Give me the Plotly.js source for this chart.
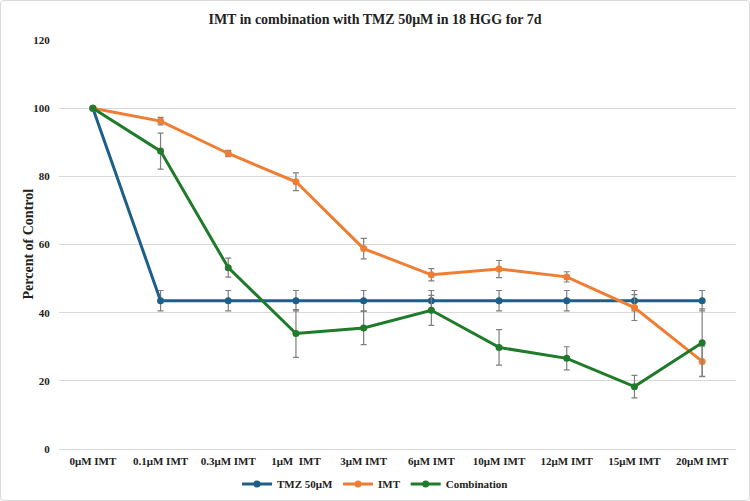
<!DOCTYPE html>
<html>
<head>
<meta charset="utf-8">
<script src="https://cdn.plot.ly/plotly-3.0.1.min.js"></script>
<style>
html,body{margin:0;padding:0;background:#fff;}
#wrap{position:relative;width:750px;height:501px;}
#chart{width:750px;height:501px;}
#frame{position:absolute;left:0;top:0;width:748px;height:499px;border:1px solid #d9d9d9;border-radius:4px;pointer-events:none;}
</style>
</head>
<body>
<div id="wrap"><div id="chart"></div><div id="frame"></div></div>
<script>
const categories = ["0μM IMT","0.1μM IMT","0.3μM IMT","1μM  IMT","3μM IMT","6μM IMT","10μM IMT","12μM IMT","15μM IMT","20μM IMT"];
const tmzValues = [100,43.5,43.5,43.5,43.5,43.5,43.5,43.5,43.5,43.5];
const tmzErrors = [0,3,3,3,3,3,3,3,3,3];
const imtValues = [100,96.2,86.7,78.4,58.8,51.1,52.8,50.5,41.5,25.7];
const imtErrors = [0,1.1,0.9,2.6,3,1.8,2.5,1.5,3.8,4.5];
const comboValues = [100,87.4,53.2,33.9,35.5,40.7,29.8,26.6,18.3,31.2];
const comboErrors = [0,5.3,2.8,7,4.9,4.4,5.2,3.4,3.3,9.9];
const seriesNames = ["TMZ 50μM","IMT","Combination"];
const seriesColors = ["#1d5f8a","#ef7d32","#1f7a2a"];

const serif = "Liberation Serif, Times New Roman, serif";
function mk(name, y, err, color){
  return {
    type:'scatter', mode:'lines+markers', name:name,
    x:categories, y:y,
    line:{color:color, width:3},
    marker:{color:color, size:7},
    error_y:{type:'data', array:err, visible:true, color:'#7f7f7f', thickness:1.2, width:3}
  };
}
const data = [
  mk(seriesNames[0], tmzValues, tmzErrors, seriesColors[0]),
  mk(seriesNames[1], imtValues, imtErrors, seriesColors[1]),
  mk(seriesNames[2], comboValues, comboErrors, seriesColors[2])
];
const L = 59, R = 14, T = 40, B = 52;
const plotW = 750 - L - R;
const layout = {
  width:750, height:501,
  margin:{l:L, r:R, t:T, b:B},
  paper_bgcolor:'#fff', plot_bgcolor:'#fff',
  font:{family:serif, color:'#1a1a1a'},
  title:{text:'IMT in combination with TMZ 50μM in 18 HGG for 7d', font:{family:serif, size:14, weight:'bold', color:'#222'}, x:0.5, xanchor:'center', y:0.962, yanchor:'middle'},
  xaxis:{type:'category', range:[-0.5, categories.length - 0.5], showgrid:false, zeroline:false, showline:true, linecolor:'#d9d9d9', linewidth:1,
    ticks:'outside', ticklen:2, tickcolor:'rgba(0,0,0,0)',
    tickfont:{family:serif, size:11, weight:'bold', color:'#222'}},
  yaxis:{range:[0,120], dtick:20, showgrid:true, gridcolor:'#d9d9d9', gridwidth:1, zeroline:false, showline:false,
    ticks:'outside', ticklen:6, tickcolor:'rgba(0,0,0,0)',
    tickfont:{family:serif, size:11, weight:'bold', color:'#222'}},
  annotations:[{text:'Percent of Control', textangle:-90, xref:'paper', yref:'paper',
    x:(28 - L)/plotW, y:0.5, xanchor:'center', yanchor:'middle', showarrow:false,
    font:{family:serif, size:14, weight:'bold', color:'#222'}}],
  showlegend:true,
  legend:{orientation:'h', xref:'container', yref:'container', x:0.5, xanchor:'center', y:1 - 484/501, yanchor:'middle',
    bgcolor:'rgba(0,0,0,0)',
    font:{family:serif, size:11, weight:'bold', color:'#222'}, itemwidth:30, tracegroupgap:0}
};
Plotly.newPlot('chart', data, layout, {displayModeBar:false, staticPlot:true});
</script>
</body>
</html>
